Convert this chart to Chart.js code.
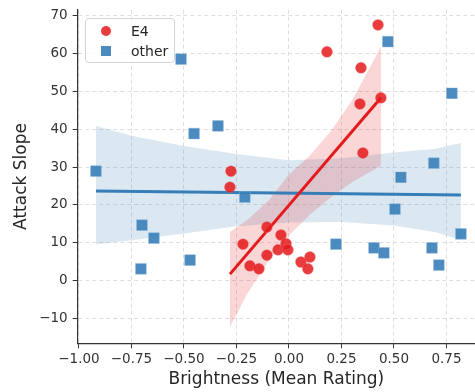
<!DOCTYPE html>
<html>
<head>
<meta charset="utf-8">
<script src="https://cdn.jsdelivr.net/npm/chart.js@4.4.1/dist/chart.umd.min.js"></script>
<style>
  html, body { margin: 0; padding: 0; background: #fff; }
  #wrap { position: relative; width: 475px; height: 392px; }
  #legend {
    position: absolute; left: 85px; top: 18px; width: 90px; height: 45px;
    box-sizing: border-box; border: 1px solid #d4d4d4; border-radius: 4px;
    background: rgba(255,255,255,0.8);
    font-family: "DejaVu Sans", sans-serif; font-size: 14px; color: #262626;
  }
  #legend .mk { position: absolute; left: 15px; width: 10px; height: 10px; }
  #legend .circ { border-radius: 50%; background: rgba(228,26,28,0.85); top: 7px; }
  #legend .sq { background: rgba(55,126,184,0.9); top: 27px; }
  #legend .lbl { position: absolute; left: 45px; line-height: 16px; }
</style>
</head>
<body>
<div id="wrap">
  <canvas id="chart" width="475" height="392"></canvas>
  <div id="legend">
    <span class="mk circ"></span><span class="lbl" style="top:4px">E4</span>
    <span class="mk sq"></span><span class="lbl" style="top:24px">other</span>
  </div>
</div>
<script>
// E4 group (red circles)
const e4X = [0.424, 0.181, 0.343, 0.338, 0.438, 0.352, -0.276, -0.281, -0.219, -0.186,
             -0.143, -0.105, -0.105, -0.038, -0.052, -0.014, -0.005, 0.057, 0.100, 0.090];
const e4Y = [67.4, 60.3, 56.1, 46.6, 48.2, 33.7, 28.9, 24.7, 9.7, 4.0,
             3.2, 14.2, 6.8, 12.1, 8.2, 9.8, 8.2, 5.0, 6.3, 3.2];

// other group (blue squares)
const otherX = [-0.919, -0.514, -0.452, -0.338, -0.210, 0.471, 0.776, 0.533, 0.690, -0.700,
                -0.643, -0.705, -0.471, 0.224, 0.505, 0.405, 0.452, 0.681, 0.714, 0.819];
const otherY = [28.9, 58.4, 38.8, 40.8, 22.1, 63.0, 49.4, 27.3, 31.0, 14.7,
                11.3, 3.2, 5.5, 9.7, 18.9, 8.7, 7.4, 8.7, 4.2, 12.4];

// fitted lines
const e4LineX = [-0.281, 0.438];
const e4LineY = [1.8, 48.2];
const otherLineX = [-0.919, 0.819];
const otherLineY = [23.7, 22.6];

// confidence bands
const e4BandX = [-0.281, -0.2, -0.1, 0, 0.1, 0.2, 0.3, 0.438];
const e4BandUpper = [12.9, 16.0, 21.0, 28.0, 33.0, 39.5, 47.5, 61.6];
const e4BandLower = [-12.1, -3.5, 5.0, 12.0, 17.5, 22.0, 26.0, 30.3];
const otherBandX = [-0.919, -0.75, -0.5, -0.25, 0, 0.25, 0.5, 0.7, 0.819];
const otherBandUpper = [40.8, 38.2, 35.5, 33.4, 31.8, 32.3, 33.8, 34.8, 36.3];
const otherBandLower = [9.7, 10.7, 12.5, 14.4, 15.4, 15.5, 14.6, 12.8, 10.8];

const xTicks = [-1.0, -0.75, -0.5, -0.25, 0, 0.25, 0.5, 0.75];
const yTicks = [-10, 0, 10, 20, 30, 40, 50, 60, 70];

const RED = "#e41a1c";
const BLUE = "#377eb8";
const FONT = "DejaVu Sans";

function pts(xs, ys) {
  return xs.map((x, i) => ({ x: x, y: ys[i] }));
}

function minus(s) {
  return String(s).replace("-", "\u2212");
}

function bandSet(xs, ys, color, fill, order) {
  return {
    type: "line",
    data: pts(xs, ys),
    borderWidth: 0,
    pointRadius: 0,
    backgroundColor: color,
    fill: fill,
    order: order
  };
}

new Chart(document.getElementById("chart"), {
  type: "scatter",
  data: {
    datasets: [
      bandSet(e4BandX, e4BandUpper, "rgba(228,26,28,0.18)", "+1", 3),
      bandSet(e4BandX, e4BandLower, "rgba(228,26,28,0.18)", false, 3),
      bandSet(otherBandX, otherBandUpper, "rgba(55,126,184,0.18)", "+1", 4),
      bandSet(otherBandX, otherBandLower, "rgba(55,126,184,0.18)", false, 4),
      {
        type: "line",
        data: pts(e4LineX, e4LineY),
        borderColor: RED,
        borderWidth: 3,
        pointRadius: 0,
        fill: false,
        order: 2
      },
      {
        type: "line",
        data: pts(otherLineX, otherLineY),
        borderColor: BLUE,
        borderWidth: 3,
        pointRadius: 0,
        fill: false,
        order: 2
      },
      {
        label: "E4",
        data: pts(e4X, e4Y),
        pointStyle: "circle",
        pointRadius: 5.5,
        backgroundColor: "rgba(228,26,28,0.85)",
        borderColor: "rgba(240,120,120,0.6)",
        borderWidth: 0.6,
        order: 0
      },
      {
        label: "other",
        data: pts(otherX, otherY),
        pointStyle: "rect",
        pointRadius: 7.6,
        backgroundColor: "rgba(55,126,184,0.9)",
        borderColor: "rgba(140,180,215,0.7)",
        borderWidth: 0.6,
        order: 1
      }
    ]
  },
  options: {
    responsive: false,
    animation: false,
    layout: { autoPadding: false, padding: { top: 9.7, right: 0, left: 0, bottom: 0 } },
    plugins: {
      legend: { display: false },
      tooltip: { enabled: false }
    },
    scales: {
      x: {
        type: "linear",
        min: -1.006,
        max: 0.886,
        afterBuildTicks: scale => { scale.ticks = xTicks.map(v => ({ value: v })); },
        afterFit: scale => {
          scale.height = 48.7;
          scale.paddingRight = 0;
          scale.paddingLeft = 0;
        },
        ticks: {
          callback: v => minus(Number(v).toFixed(2)),
          font: { family: FONT, size: 13.5 },
          color: "#333",
          padding: 3,
          maxRotation: 0
        },
        grid: {
          color: "#d6d6d6",
          lineWidth: 0.8,
          tickLength: 5,
          tickColor: "#333",
          tickWidth: 1
        },
        border: { display: true, color: "#333", width: 1.2, dash: [4, 3] },
        title: {
          display: true,
          text: "Brightness (Mean Rating)",
          font: { family: FONT, size: 17 },
          color: "#262626",
          padding: { top: 0, bottom: 1.8 }
        }
      },
      y: {
        type: "linear",
        min: -16.4,
        max: 71.4,
        afterBuildTicks: scale => { scale.ticks = yTicks.map(v => ({ value: v })); },
        afterFit: scale => {
          scale.width = 77.7;
          scale.paddingTop = 0;
          scale.paddingBottom = 0;
        },
        ticks: {
          callback: v => minus(v),
          font: { family: FONT, size: 13.5 },
          color: "#333",
          padding: 5
        },
        grid: {
          color: "#d6d6d6",
          lineWidth: 0.8,
          tickLength: 5,
          tickColor: "#333",
          tickWidth: 1
        },
        border: { display: true, color: "#333", width: 1.2, dash: [4, 3] },
        title: {
          display: true,
          text: "Attack Slope",
          font: { family: FONT, size: 17 },
          color: "#262626",
          padding: { top: 11.8, bottom: 0 }
        }
      }
    }
  }
});
</script>
</body>
</html>
